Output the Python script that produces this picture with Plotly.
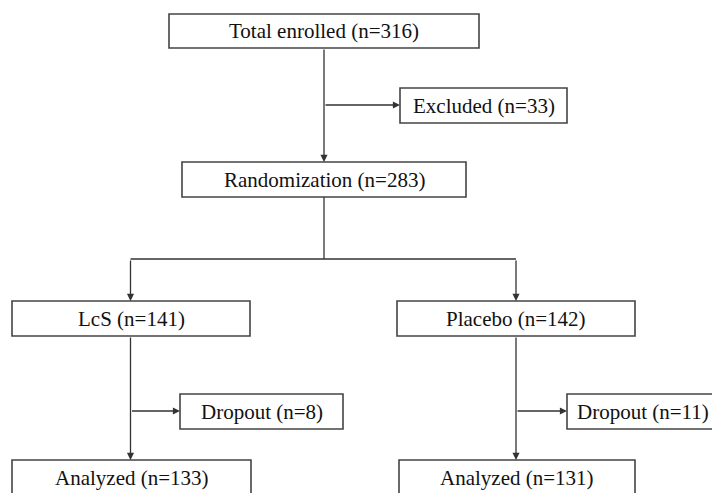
import plotly.graph_objects as go

# ---- data ----
labels = ["Total enrolled", "Excluded", "Randomization", "LcS", "Placebo",
          "Dropout", "Dropout", "Analyzed", "Analyzed"]
counts = [316, 33, 283, 141, 142, 8, 11, 133, 131]

# box geometry in pixel space (x0, y0, x1, y1), y measured downward
boxes = [
    (169, 14, 479, 48),
    (400, 88, 567, 123),
    (182, 162, 466, 197),
    (12, 301, 250, 336),
    (397, 301, 635, 336),
    (180, 394, 343, 429),
    (567, 394, 719, 429),
    (12, 460, 251, 495),
    (399, 460, 635, 495),
]

W, H = 712, 493
LINE = "#333333"
FONT = dict(family="Liberation Serif, Times New Roman, serif", size=21, color="#111111")

fig = go.Figure()
fig.add_trace(go.Scatter(x=[100], y=[100], mode="markers", marker=dict(opacity=0), hoverinfo="skip", showlegend=False))

shapes = []
annotations = []
for (x0, y0, x1, y1), lab, n in zip(boxes, labels, counts):
    shapes.append(dict(type="rect", xref="x", yref="y", x0=x0, y0=y0, x1=x1, y1=y1,
                       line=dict(color="#444444", width=1.6), fillcolor="white", layer="above"))
    annotations.append(dict(x=(x0 + x1) / 2, y=(y0 + y1) / 2, xref="x", yref="y",
                            text=f"{lab} (n={n})", showarrow=False, font=FONT,
                            xanchor="center", yanchor="middle"))

# plain connector lines (no arrow)
plain = [
    ((324, 197), (324, 259)),
    ((130.5, 259), (516, 259)),
]
for (xa, ya), (xb, yb) in plain:
    shapes.append(dict(type="line", xref="x", yref="y", x0=xa, y0=ya, x1=xb, y1=yb,
                       line=dict(color=LINE, width=1.3)))

# arrows (start -> end)
arrows = [
    ((324, 48), (324, 162)),
    ((324, 105), (400, 105)),
    ((130.5, 259), (130.5, 301)),
    ((516, 259), (516, 301)),
    ((130.5, 336), (130.5, 460)),
    ((516, 336), (516, 460)),
    ((130.5, 411), (180, 411)),
    ((516, 411), (567, 411)),
]
for (xa, ya), (xb, yb) in arrows:
    annotations.append(dict(x=xb, y=yb, ax=xa, ay=ya, xref="x", yref="y", axref="x", ayref="y",
                            showarrow=True, arrowhead=2, arrowsize=1.1, arrowwidth=1.3,
                            arrowcolor=LINE, text="", standoff=0, startstandoff=0))

fig.update_layout(
    width=W, height=H,
    margin=dict(l=0, r=0, t=0, b=0),
    paper_bgcolor="white", plot_bgcolor="white",
    xaxis=dict(range=[0, W], visible=False, fixedrange=True),
    yaxis=dict(range=[H, 0], visible=False, fixedrange=True),
    shapes=shapes, annotations=annotations, showlegend=False,
)
fig.write_html("out.html",
               config={"displayModeBar": False, "staticPlot": True},
               post_script="document.body.style.margin='0';document.body.style.overflow='hidden';")
